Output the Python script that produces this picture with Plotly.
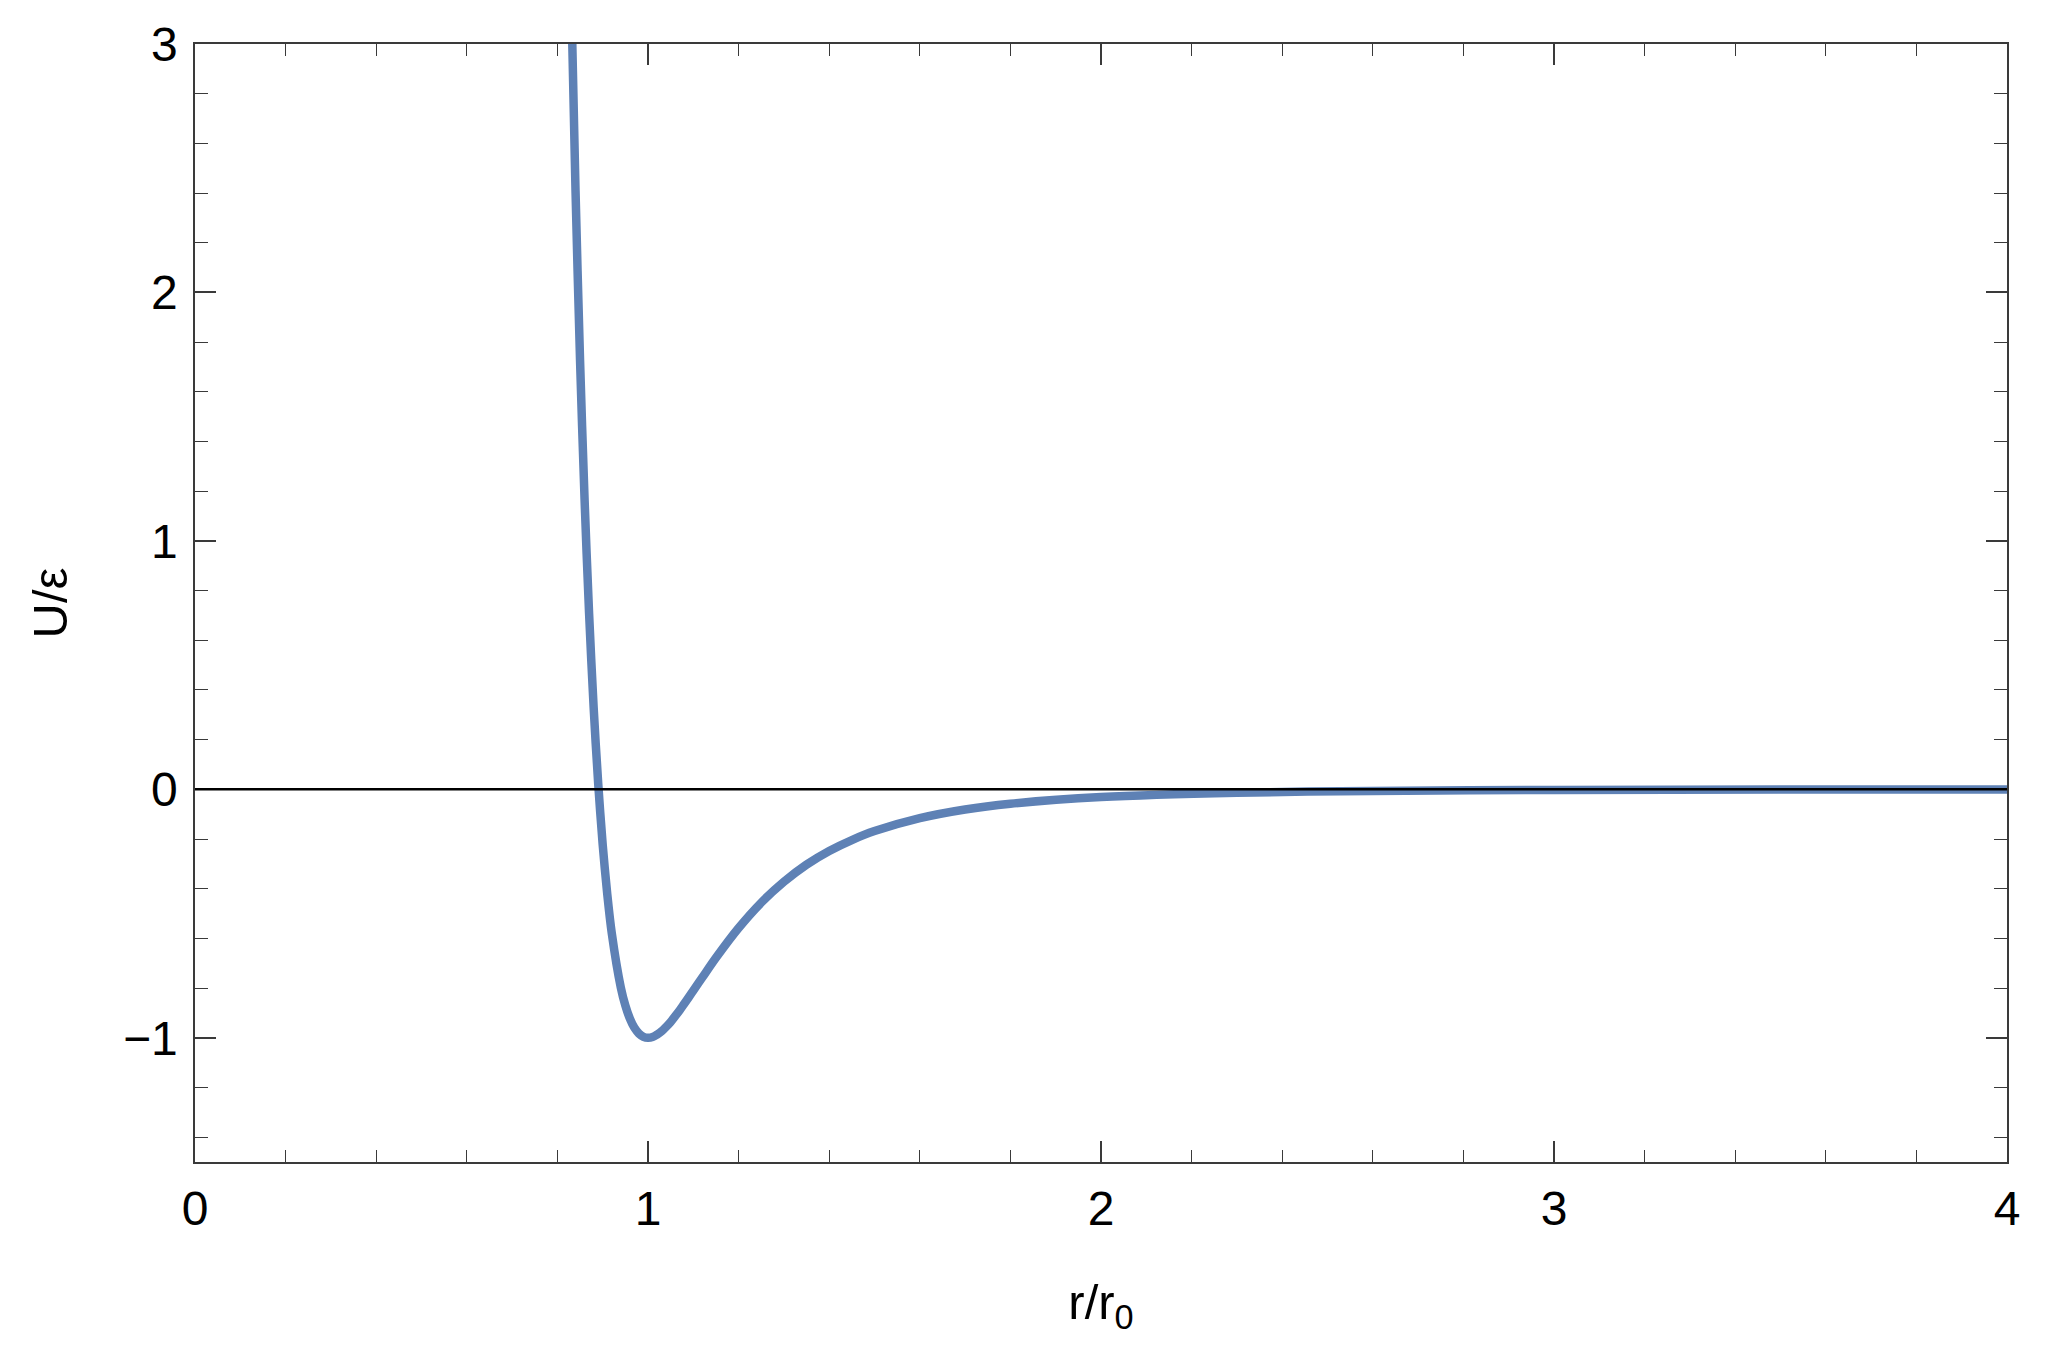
import plotly.graph_objects as go

# Values (r/r0 vs U/epsilon)
r_vals = [0.830, 0.840, 0.850, 0.860, 0.870, 0.880, 0.890, 0.900, 0.910, 0.920,
          0.940, 0.950, 0.960, 0.970, 0.980, 0.990, 1.000, 1.010, 1.020, 1.030,
          1.040, 1.050, 1.060, 1.070, 1.080, 1.090, 1.100, 1.120, 1.150, 1.200,
          1.250, 1.300, 1.350, 1.400, 1.450, 1.500, 1.600, 1.700, 1.800, 2.000,
          2.300, 2.600, 3.000, 3.500, 4.000]
u_vals = [3.24, 2.41, 1.727, 1.166, 0.706, 0.330, 0.025, -0.223, -0.421, -0.579,
          -0.798, -0.870, -0.923, -0.960, -0.983, -0.996, -1.000, -0.997, -0.987, -0.974,
          -0.956, -0.936, -0.913, -0.889, -0.863, -0.837, -0.810, -0.757, -0.678, -0.558,
          -0.456, -0.372, -0.303, -0.248, -0.204, -0.168, -0.116, -0.081, -0.058, -0.031,
          -0.0135, -0.0065, -0.0027, -0.0011, -0.0005]

x_ticks = [0, 1, 2, 3, 4]
y_ticks = [-1, 0, 1, 2, 3]
y_tick_text = ["\u22121", "0", "1", "2", "3"]

FONT = "Liberation Sans, Arial, sans-serif"
FRAME = "#3a3a3a"

fig = go.Figure()
fig.add_trace(go.Scatter(
    x=r_vals, y=u_vals, mode="lines",
    line=dict(color="#5E81B5", width=8.5, shape="spline", smoothing=0.8),
    showlegend=False,
))

fig.add_shape(type="line", xref="paper", x0=0, x1=1, yref="y", y0=0, y1=0,
              line=dict(color="black", width=2.5), layer="above")

axis_common = dict(
    showgrid=False, zeroline=False, showline=True, linecolor=FRAME, linewidth=1.5,
    mirror="allticks", ticks="inside", tickcolor=FRAME, tickwidth=1.5, ticklen=21,
    tickfont=dict(family=FONT, size=48, color="black"),
)

fig.update_xaxes(
    range=[0, 4], tickvals=x_ticks, ticktext=[str(v) for v in x_ticks],
    minor=dict(dtick=0.2, tick0=0, ticks="inside", ticklen=12, tickcolor=FRAME, tickwidth=1.2),
    title=dict(text="r/r<sub>0</sub>", font=dict(family=FONT, size=49, color="black"), standoff=50),
    ticklabelstandoff=4,
    **axis_common,
)
fig.update_yaxes(
    range=[-1.5, 3], tickvals=y_ticks, ticktext=y_tick_text,
    minor=dict(dtick=0.2, tick0=0, ticks="inside", ticklen=13, tickcolor=FRAME, tickwidth=1.2),
    title=dict(text="U/\u03b5", font=dict(family=FONT, size=49, color="black"), standoff=40),
    ticklabelstandoff=6,
    **axis_common,
)

fig.update_layout(
    width=2048, height=1353,
    margin=dict(l=187, r=49, t=36, b=199, autoexpand=False),
    paper_bgcolor="white", plot_bgcolor="white",
)

fig.write_html("out.html")
